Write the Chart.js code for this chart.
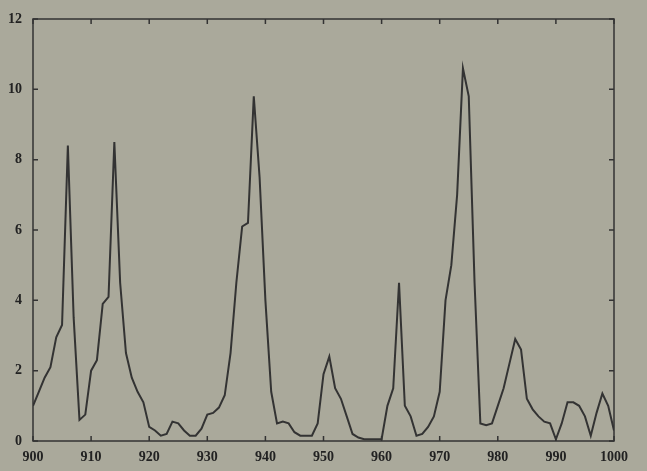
<!DOCTYPE html><html><head><script src="https://cdn.jsdelivr.net/npm/chart.js@4"></script>
<style>body{margin:0;background:#aaa99b}#w{width:647px;height:471px}</style></head><body><div id="w"><canvas id="c"></canvas></div>
<script>
const years=[];for(let y=900;y<=1000;y++)years.push(y);
const values=[1.0,1.4,1.8,2.1,2.95,3.3,8.4,3.5,0.6,0.75,
2.0,2.3,3.9,4.1,8.5,4.5,2.5,1.8,1.4,1.1,
0.4,0.3,0.15,0.2,0.55,0.5,0.3,0.15,0.15,0.35,
0.75,0.8,0.95,1.3,2.5,4.5,6.1,6.2,9.8,7.5,
4.0,1.4,0.5,0.55,0.5,0.25,0.15,0.15,0.15,0.5,
1.9,2.4,1.5,1.2,0.7,0.2,0.1,0.05,0.05,0.05,
0.05,1.0,1.5,4.5,1.0,0.7,0.15,0.2,0.4,0.7,
1.4,4.0,5.0,7.0,10.6,9.8,4.5,0.5,0.45,0.5,
1.0,1.5,2.2,2.9,2.6,1.2,0.9,0.7,0.55,0.5,
0.05,0.5,1.1,1.1,1.0,0.7,0.15,0.8,1.35,1.0,0.3];
const pts=years.map((x,i)=>({x,y:values[i]}));
const f={family:"Liberation Serif",size:14,weight:"bold"};
const frame={id:'frame',afterDraw(c){const {ctx,chartArea:a,scales:{x,y}}=c;ctx.save();ctx.strokeStyle='#333';ctx.lineWidth=1.5;
ctx.strokeRect(a.left,a.top,a.right-a.left,a.bottom-a.top);
for(let v=900;v<=1000;v+=10){const p=x.getPixelForValue(v);ctx.beginPath();ctx.moveTo(p,a.bottom);ctx.lineTo(p,a.bottom-5);ctx.moveTo(p,a.top);ctx.lineTo(p,a.top+5);ctx.stroke();}
for(let v=0;v<=12;v+=2){const p=y.getPixelForValue(v);ctx.beginPath();ctx.moveTo(a.left,p);ctx.lineTo(a.left+5,p);ctx.moveTo(a.right,p);ctx.lineTo(a.right-5,p);ctx.stroke();}
ctx.restore();}};
new Chart(document.getElementById('c'),{type:'scatter',data:{datasets:[{data:pts,showLine:true,borderColor:'#333',borderWidth:2,pointRadius:0,tension:0}]},
plugins:[frame],
options:{responsive:true,maintainAspectRatio:false,animation:false,layout:{padding:{left:0,right:33,top:19,bottom:0}},
plugins:{legend:{display:false},tooltip:{enabled:false}},
scales:{x:{type:'linear',min:900,max:1000,afterFit(s){s.height=30},ticks:{stepSize:10,color:'#222',font:f,padding:0,callback:v=>String(v)},grid:{display:false},border:{display:false}},
y:{min:0,max:12,afterFit(s){s.width=33},ticks:{stepSize:2,color:'#222',font:f,padding:3},grid:{display:false},border:{display:false}}}}});
</script></body></html>
